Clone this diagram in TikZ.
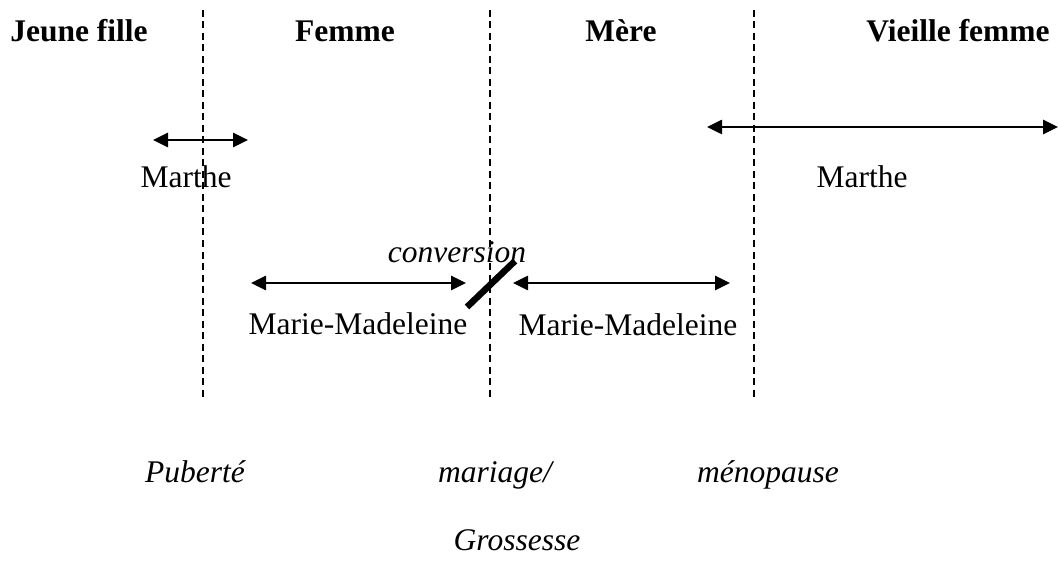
\documentclass[tikz,border=0pt]{standalone}
\usepackage{fontspec}
\setmainfont{Liberation Serif}
\usetikzlibrary{arrows.meta}
\tikzset{
  lbl/.style={anchor=base, inner sep=0pt, font=\fontsize{31.5}{36}\selectfont},
  head/.style={lbl, font=\fontsize{31.5}{36}\selectfont\bfseries},
  ital/.style={lbl, font=\fontsize{31.5}{36}\selectfont\itshape},
  sep/.style={line width=1.5pt, dash pattern=on 7pt off 4.5pt},
  span/.style={line width=2.6pt, {Triangle[length=15pt,width=14pt]}-{Triangle[length=15pt,width=14pt]}},
  cut/.style={line width=6.5pt}
}
\begin{document}
\begin{tikzpicture}[x=1pt,y=-1pt]
\useasboundingbox (0,0) rectangle (1059,561);
% headers
\node[head] (h1) at (79,42) {Jeune fille};
\node[head] (h2) at (345,42) {Femme};
\node[head] (h3) at (621,42) {Mère};
\node[head] (h4) at (958,42) {Vieille femme};
% dashed separators
\coordinate (s1t) at (203,10); \coordinate (s1b) at (203,397);
\coordinate (s2t) at (490,10); \coordinate (s2b) at (490,397);
\coordinate (s3t) at (754,10); \coordinate (s3b) at (754,397);
\draw[sep] (s1t) -- (s1b);
\draw[sep] (s2t) -- (s2b);
\draw[sep] (s3t) -- (s3b);
% Marthe spans
\coordinate (a1l) at (153,140); \coordinate (a1r) at (248,140);
\draw[span] (a1l) -- (a1r);
\node[lbl] (m1) at (186,188) {Marthe};
\coordinate (a2l) at (707,127); \coordinate (a2r) at (1058,127);
\draw[span] (a2l) -- (a2r);
\node[lbl] (m2) at (862,188) {Marthe};
% Marie-Madeleine spans
\node[ital] (conv) at (457,262) {conversion};
\coordinate (a3l) at (251,283); \coordinate (a3r) at (466,283);
\draw[span] (a3l) -- (a3r);
\coordinate (ca) at (467,307); \coordinate (cb) at (515,261);
\draw[cut] (ca) -- (cb);
\coordinate (a4l) at (513,283); \coordinate (a4r) at (730,283);
\draw[span] (a4l) -- (a4r);
\node[lbl] (mm1) at (358,334) {Marie-Madeleine};
\node[lbl] (mm2) at (628,335) {Marie-Madeleine};
% events
\node[ital] (e1) at (195,482) {Puberté};
\node[ital] (e2) at (495,482) {mariage/};
\node[ital] (e3) at (768,482) {ménopause};
\node[ital] (e4) at (517,550) {Grossesse};
\end{tikzpicture}
\end{document}
